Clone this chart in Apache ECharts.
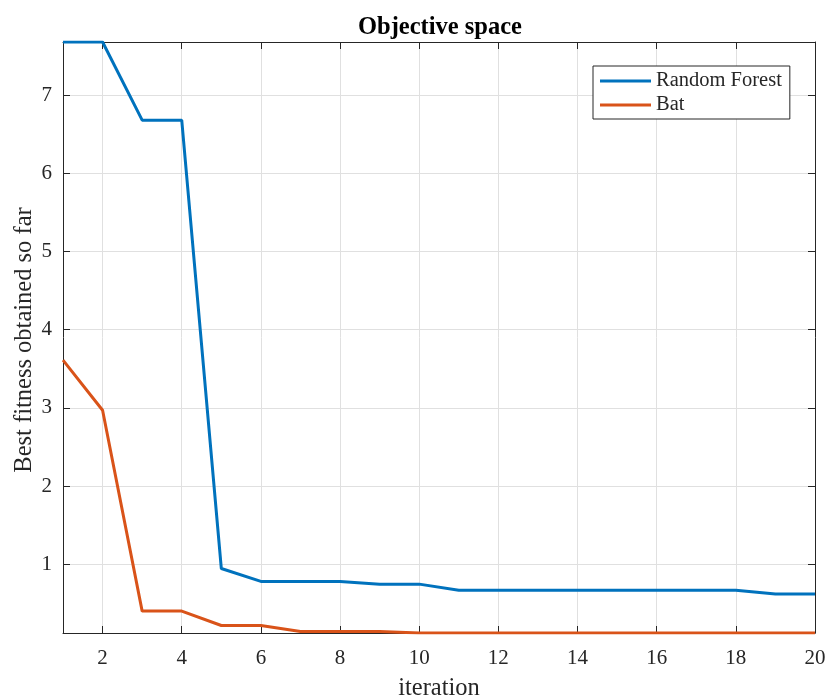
<!DOCTYPE html>
<html>
<head>
<meta charset="utf-8">
<script src="https://cdn.jsdelivr.net/npm/echarts@6/dist/echarts.min.js"></script>
<style>html,body{margin:0;padding:0;background:#fff}#c{width:827px;height:698px}</style>
</head>
<body>
<div id="c"></div>
<script>
const iterations = [1,2,3,4,5,6,7,8,9,10,11,12,13,14,15,16,17,18,19,20];
const randomForest = [7.68,7.68,6.68,6.68,0.945,0.78,0.78,0.78,0.745,0.745,0.668,0.668,0.668,0.668,0.668,0.668,0.668,0.668,0.62,0.62];
const bat = [3.61,2.97,0.40,0.40,0.216,0.216,0.14,0.14,0.14,0.12,0.12,0.12,0.12,0.12,0.12,0.12,0.12,0.12,0.12,0.12];
const yTicks = [1,2,3,4,5,6,7];
const yMin = 0.12, yMax = 7.68;

const FONT = 'Liberation Serif';
const AX = '#262626';
const showEven = (i, v) => Number(v) % 2 === 0;
const cats = iterations.map(String);

const chart = echarts.init(document.getElementById('c'), null, {renderer: 'canvas'});
chart.setOption({
  animation: false,
  backgroundColor: '#fff',
  title: {
    text: 'Objective space', left: 435, top: 10, textAlign: 'center',
    textStyle: {fontFamily: FONT, fontSize: 24.5, fontWeight: 'bold', color: '#000'}
  },
  legend: {
    orient: 'vertical', left: 593, top: 66,
    backgroundColor: '#fff', borderColor: AX, borderWidth: 1, borderRadius: 0,
    padding: [4, 8, 3, 7], itemGap: 2, itemWidth: 51, itemHeight: 3, icon: 'rect',
    textStyle: {fontFamily: FONT, fontSize: 20.5, color: AX, lineHeight: 22},
    data: ['Random Forest', 'Bat']
  },
  grid: {left: 63, right: 12, top: 42, bottom: 65, containLabel: false, outerBoundsMode: 'none'},
  xAxis: [{
    type: 'category', data: cats, boundaryGap: false, position: 'bottom',
    name: 'iteration', nameLocation: 'middle', nameGap: 43,
    nameTextStyle: {fontFamily: FONT, fontSize: 24.5, color: AX},
    axisLine: {lineStyle: {color: AX, width: 1}},
    axisTick: {inside: true, length: 7, interval: showEven, lineStyle: {color: AX}},
    axisLabel: {interval: showEven, fontFamily: FONT, fontSize: 21, color: AX, margin: 15},
    splitLine: {show: true, interval: showEven, lineStyle: {color: '#e0e0e0', width: 1}}
  }, {
    type: 'category', data: cats, boundaryGap: false, position: 'top',
    axisLine: {lineStyle: {color: AX, width: 1}},
    axisTick: {inside: true, length: 7, interval: showEven, lineStyle: {color: AX}},
    axisLabel: {show: false}, splitLine: {show: false}
  }],
  yAxis: [{
    type: 'value', min: yMin, max: yMax, position: 'left',
    name: 'Best fitness obtained so far', nameLocation: 'middle', nameGap: 26, nameMoveOverlap: false,
    nameTextStyle: {fontFamily: FONT, fontSize: 24.5, color: AX, padding: [0, 5, 0, 0]},
    axisLine: {show: true, lineStyle: {color: AX, width: 1}},
    axisTick: {show: true, inside: true, length: 7, customValues: yTicks, lineStyle: {color: AX}},
    axisLabel: {customValues: yTicks, fontFamily: FONT, fontSize: 21, color: AX, margin: 11},
    splitLine: {show: true, lineStyle: {color: '#e0e0e0', width: 1}}
  }, {
    type: 'value', min: yMin, max: yMax, position: 'right',
    axisLine: {show: true, lineStyle: {color: AX, width: 1}},
    axisTick: {show: true, inside: true, length: 7, customValues: yTicks, lineStyle: {color: AX}},
    axisLabel: {show: false}, splitLine: {show: false}
  }],
  series: [{
    name: 'Random Forest', type: 'line', data: randomForest, symbol: 'none',
    xAxisIndex: 0, yAxisIndex: 0,
    lineStyle: {color: '#0072BD', width: 3}, itemStyle: {color: '#0072BD'}
  }, {
    name: 'Bat', type: 'line', data: bat, symbol: 'none',
    xAxisIndex: 0, yAxisIndex: 0,
    lineStyle: {color: '#D95319', width: 3}, itemStyle: {color: '#D95319'}
  }]
});
</script>
</body>
</html>
